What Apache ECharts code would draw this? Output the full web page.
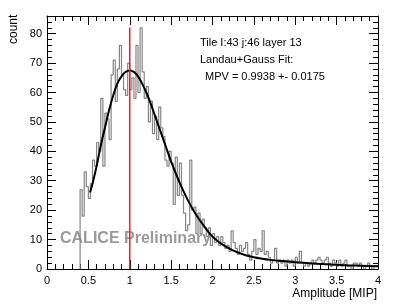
<!DOCTYPE html>
<html><head><meta charset="utf-8">
<script src="https://cdn.jsdelivr.net/npm/echarts@6/dist/echarts.min.js"></script>
<style>html,body{margin:0;padding:0;background:#fff}#c{width:399px;height:308px}</style>
</head><body><div id="c"></div>
<script>
// ---- data ----
const binStart = 0.4;
const binWidth = 0.025;
const counts = [
 27,18,33,28,24,29,37,35,43,40,58,35,53,51,44,66,71,57,68,76,66,61,59,70,
 61,65,58,76,60,82,67,58,62,50,57,46,52,44,55,48,45,37,35,40,36,22,38,25,
 36,25,19,13,15,37,20,21,12,19,12,17,14,11,14,8,12,9,11,8,11,9,7,8,
 6,13,9,7,5,8,6,7,9,5,3,6,10,5,7,6,13,5,6,4,
 2,3,7,2,3,2,3,1,3,2,3,1,4,2,6,2,1,2,1,2,3,2,3,4,3,2,3,4,2,1,3,2,1,3,1,2,3,1,1,0,2,2,1,2,1,0,1,2,1,0,1,1
];
const fitX = [0.52,0.55,0.6,0.65,0.7,0.75,0.8,0.85,0.9,0.95,1.0,1.05,1.1,1.15,1.2,1.25,1.3,1.35,1.4,1.45,1.5,1.6,1.7,1.8,1.9,2.0,2.1,2.2,2.3,2.4,2.5,2.6,2.7,2.8,3.0,3.2,3.4,3.6,3.8,4.0];
const fitY = [26,29,35,42,48,54,59,63,65.5,67,67.5,67,65.5,63,60,56.5,52.5,48.5,44.5,40.5,36.5,29.5,23.5,18.5,14.5,11,8.7,7,5.7,4.7,4,3.5,3.1,2.8,2.3,1.9,1.6,1.3,1.1,0.9];
const mpvX = [1, 1];
const mpvY = [0, 82];
const xTicks = {min: 0, max: 4, step: 0.5};
const yTicks = {min: 0, max: 86, step: 10, minorStep: 2};
const infoLines = ['Tile I:43 j:46 layer 13', 'Landau+Gauss Fit:', 'MPV = 0.9938 +- 0.0175'];
const watermark = 'CALICE Preliminary';
const xTitle = 'Amplitude [MIP]';
const yTitle = 'count';

// ---- build ----
const histData = [[binStart, 0]];
counts.forEach((c, i) => histData.push([binStart + i * binWidth, c]));
histData.push([binStart + counts.length * binWidth, counts[counts.length - 1]]);
const fitData = fitX.map((x, i) => [x, fitY[i]]);
const mpvData = mpvX.map((x, i) => [x, mpvY[i]]);

const FONT = "'Liberation Sans', Arial, sans-serif";
const chart = echarts.init(document.getElementById('c'), null, {renderer: 'canvas'});

function xAx(pos, labels) {
  return {
    type: 'value', position: pos, min: xTicks.min, max: xTicks.max, interval: xTicks.step,
    axisLine: {show: true, onZero: false, lineStyle: {color: '#000', width: 1}},
    axisTick: {show: true, inside: true, length: 9, lineStyle: {color: '#000'}},
    minorTick: {show: true, splitNumber: 5, length: 5, lineStyle: {color: '#000'}},
    axisLabel: {show: labels, color: '#000', fontSize: 11, fontFamily: FONT, margin: 6},
    splitLine: {show: false}, minorSplitLine: {show: false}
  };
}
function yAx(pos, step, len, labels, line) {
  return {
    type: 'value', position: pos, min: yTicks.min, max: yTicks.max, interval: step,
    axisLine: {show: line, onZero: false, lineStyle: {color: '#000', width: 1}},
    axisTick: {show: true, inside: true, length: len, lineStyle: {color: '#000'}},
    axisLabel: {show: labels, color: '#000', fontSize: 11, fontFamily: FONT, margin: 5, showMaxLabel: false},
    splitLine: {show: false}
  };
}

chart.setOption({
  animation: false,
  backgroundColor: '#fff',
  grid: {left: 47, right: 21, top: 16, bottom: 39, containLabel: false},
  xAxis: [xAx('bottom', true), xAx('top', false)],
  yAxis: [
    yAx('left', yTicks.step, 9, true, true),
    yAx('left', yTicks.minorStep, 5, false, false),
    yAx('right', yTicks.step, 9, false, true),
    yAx('right', yTicks.minorStep, 5, false, false)
  ],
  series: [
    {type: 'line', data: histData, step: 'end', symbol: 'none', z: 2,
     lineStyle: {color: '#858585', width: 1.2}},
    {type: 'line', data: fitData, smooth: 0.4, symbol: 'none', z: 4,
     lineStyle: {color: '#000', width: 2}},
    {type: 'line', data: mpvData, symbol: 'none', z: 5,
     lineStyle: {color: '#ff1a1a', width: 1.5}}
  ],
  graphic: [
    {type: 'text', left: 200, top: 37, style: {text: infoLines[0], font: '11px ' + FONT, fill: '#000'}},
    {type: 'text', left: 200, top: 54, style: {text: infoLines[1], font: '11px ' + FONT, fill: '#000'}},
    {type: 'text', left: 205, top: 71, style: {text: infoLines[2], font: '11px ' + FONT, fill: '#000'}},
    {type: 'text', left: 60, top: 231, z: 1, style: {text: watermark, font: 'bold 16px ' + FONT, fill: '#9a9a9a'}},
    {type: 'text', x: 377, y: 294, style: {text: xTitle, font: '12px ' + FONT, fill: '#000', textAlign: 'right', textVerticalAlign: 'middle'}},
    {type: 'text', x: 14, y: 44, rotation: Math.PI / 2, style: {text: yTitle, font: '12px ' + FONT, fill: '#000', textAlign: 'left', textVerticalAlign: 'middle'}}
  ]
});
</script>
</body></html>
